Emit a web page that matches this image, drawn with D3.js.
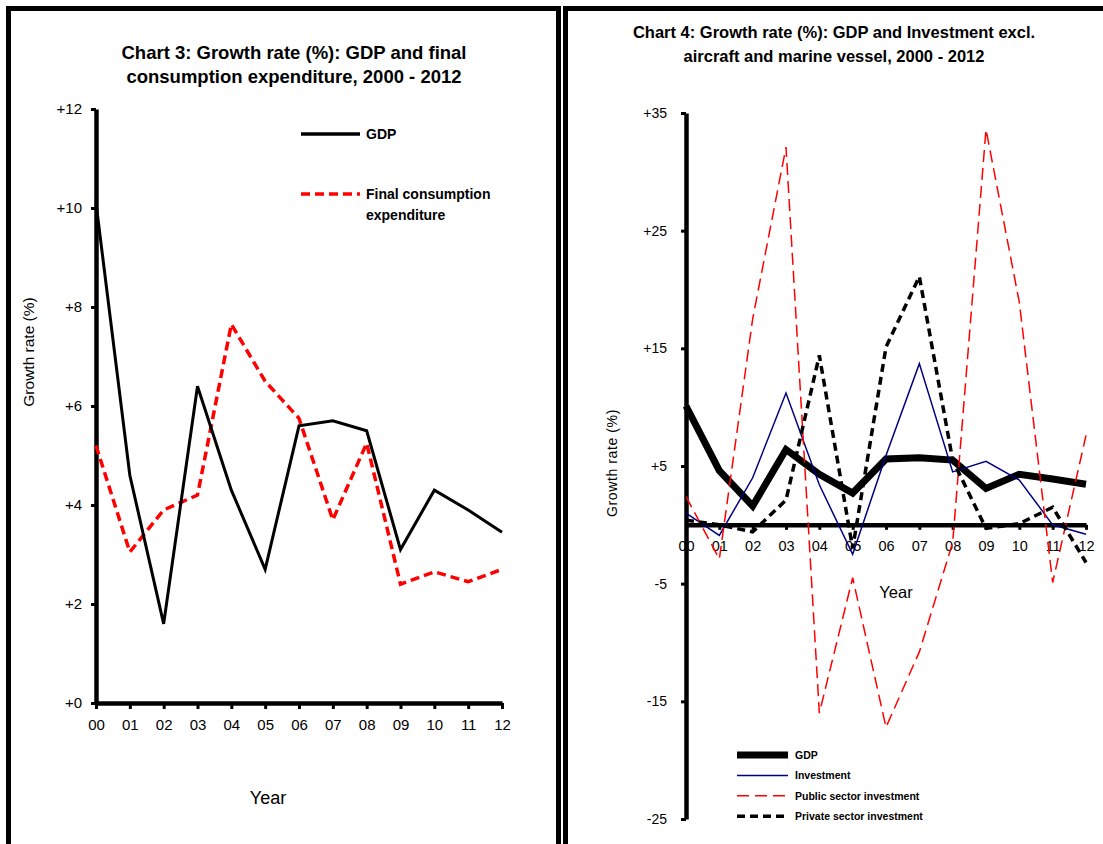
<!DOCTYPE html>
<html>
<head>
<meta charset="utf-8">
<script src="https://cdn.jsdelivr.net/npm/d3@7"></script>
<style>
  html, body { margin: 0; padding: 0; background: #fff; }
  svg { display: block; }
  .narrow { font-family: "Liberation Sans Narrow", "Arial Narrow", "Liberation Sans", Arial, sans-serif; }
  .reg { font-family: "Liberation Sans", Arial, sans-serif; }
</style>
</head>
<body>
<svg id="chart" width="1103" height="844"></svg>
<script>
// Years 2000-2012 shown as two-digit labels
const years = [0,1,2,3,4,5,6,7,8,9,10,11,12];
const yearLabels = ["00","01","02","03","04","05","06","07","08","09","10","11","12"];

// Chart 3: growth rate (%) of GDP and final consumption expenditure
const gdp = [10.1, 4.6, 1.6, 6.4, 4.3, 2.7, 5.6, 5.7, 5.5, 3.1, 4.3, 3.9, 3.45];
const finalConsumption = [5.2, 3.05, 3.9, 4.2, 7.65, 6.5, 5.75, 3.7, 5.25, 2.4, 2.65, 2.45, 2.7];
const chart3Ticks = [0, 2, 4, 6, 8, 10, 12];

// Chart 4: growth rate (%) of GDP and investment excl. aircraft and marine vessel
const investment = [1.0, -0.9, 4.0, 11.2, 3.4, -2.5, 5.9, 13.7, 4.5, 5.4, 3.8, 0.0, -0.8];
const publicInvestment = [2.4, -2.9, 17.5, 32.1, -16.0, -4.5, -17.2, -10.8, -1.5, 33.6, 18.9, -4.9, 7.6];
const privateInvestment = [0.4, 0.0, -0.6, 2.1, 14.4, -2.0, 15.1, 21.1, 5.5, -0.3, 0.1, 1.5, -3.2];
const chart4Ticks = [-25, -15, -5, 5, 15, 25, 35];

const svg = d3.select("#chart");
const signFmt = v => (v >= 0 ? "+" : "") + v;

// Panel frames (open at the bottom/right edge of the page)
svg.append("rect").attr("x", 8.5).attr("y", 8.5).attr("width", 550).attr("height", 900)
  .attr("fill", "none").attr("stroke", "#000").attr("stroke-width", 5);
svg.append("rect").attr("x", 565.5).attr("y", 8.5).attr("width", 600).attr("height", 900)
  .attr("fill", "none").attr("stroke", "#000").attr("stroke-width", 5);

function styleAxis(g, domainWidth) {
  g.select(".domain").attr("stroke", "#000").attr("stroke-width", domainWidth);
  g.selectAll(".tick line").attr("stroke", "#000").attr("stroke-width", 3);
  g.selectAll(".tick text").attr("fill", "#000");
}

// ---------------- Chart 3 ----------------
{
  const x = d3.scaleLinear().domain([0, 12]).range([96, 502]);
  const y = d3.scaleLinear().domain([0, 12]).range([703, 109]);

  svg.append("text").attr("class", "narrow").attr("text-anchor", "middle")
    .attr("font-weight", "bold").attr("font-size", 18.5)
    .selectAll("tspan").data(["Chart 3: Growth rate (%): GDP and final", "consumption expenditure, 2000 - 2012"])
    .join("tspan").attr("x", 294).attr("y", (d, i) => 59 + i * 24).text(d => d);

  const yAxis = svg.append("g").attr("class", "reg")
    .attr("transform", `translate(${x(0)},0)`)
    .call(d3.axisLeft(y).tickValues(chart3Ticks).tickFormat(signFmt).tickSize(5).tickSizeOuter(0).tickPadding(9));
  yAxis.selectAll("text").attr("font-size", 15);
  styleAxis(yAxis, 4.5);

  const xAxis = svg.append("g").attr("class", "reg")
    .attr("transform", `translate(0,${y(0)})`)
    .call(d3.axisBottom(x).tickValues(years).tickFormat(i => yearLabels[i]).tickSize(6).tickSizeOuter(0).tickPadding(10));
  xAxis.selectAll("text").attr("font-size", 15);
  styleAxis(xAxis, 4.5);

  svg.append("text").attr("class", "reg").attr("font-size", 15.5)
    .attr("transform", `translate(34,352) rotate(-90)`).attr("text-anchor", "middle")
    .text("Growth rate (%)");
  svg.append("text").attr("class", "reg").attr("font-size", 18)
    .attr("x", 268).attr("y", 804).attr("text-anchor", "middle").text("Year");

  const line = d3.line().x((d, i) => x(years[i])).y(d => y(d));
  svg.append("path").datum(finalConsumption).attr("d", line).attr("fill", "none")
    .attr("stroke", "#ff0000").attr("stroke-width", 3.5).attr("stroke-dasharray", "9,5");
  svg.append("path").datum(gdp).attr("d", line).attr("fill", "none")
    .attr("stroke", "#000").attr("stroke-width", 3).attr("stroke-linejoin", "miter");

  // Legend
  const lg = svg.append("g").attr("class", "reg").attr("font-size", 14).attr("font-weight", "bold");
  lg.append("line").attr("x1", 301).attr("x2", 360).attr("y1", 134).attr("y2", 134)
    .attr("stroke", "#000").attr("stroke-width", 3.5);
  lg.append("text").attr("x", 366).attr("y", 139).text("GDP");
  lg.append("line").attr("x1", 301).attr("x2", 360).attr("y1", 194).attr("y2", 194)
    .attr("stroke", "#ff0000").attr("stroke-width", 3.5).attr("stroke-dasharray", "9,5");
  lg.append("text").selectAll("tspan").data(["Final consumption", "expenditure"]).join("tspan")
    .attr("x", 366).attr("y", (d, i) => 199 + i * 21).text(d => d);
}

// ---------------- Chart 4 ----------------
{
  const x = d3.scaleLinear().domain([0, 12]).range([686, 1086]);
  const y = d3.scaleLinear().domain([-25, 35]).range([819, 113]);

  svg.append("text").attr("class", "narrow").attr("text-anchor", "middle")
    .attr("font-weight", "bold").attr("font-size", 16.5)
    .selectAll("tspan").data(["Chart 4: Growth rate (%): GDP and Investment excl.", "aircraft and marine vessel, 2000 - 2012"])
    .join("tspan").attr("x", 834).attr("y", (d, i) => 38 + i * 24).text(d => d);

  const yAxis = svg.append("g").attr("class", "reg")
    .attr("transform", `translate(${x(0)},0)`)
    .call(d3.axisLeft(y).tickValues(chart4Ticks).tickFormat(signFmt).tickSize(5).tickSizeOuter(0).tickPadding(14));
  yAxis.selectAll("text").attr("font-size", 14);
  styleAxis(yAxis, 4.5);

  const xAxis = svg.append("g").attr("class", "reg")
    .attr("transform", `translate(0,${y(0)})`)
    .call(d3.axisBottom(x).tickValues(years).tickFormat(i => yearLabels[i]).tickSize(5).tickSizeOuter(0).tickPadding(11));
  xAxis.selectAll("text").attr("font-size", 14.5);
  styleAxis(xAxis, 4.5);

  svg.append("text").attr("class", "reg").attr("font-size", 14).attr("letter-spacing", 0.6)
    .attr("transform", `translate(617,463) rotate(-90)`).attr("text-anchor", "middle")
    .text("Growth rate (%)");
  svg.append("text").attr("class", "reg").attr("font-size", 16.5)
    .attr("x", 896).attr("y", 598).attr("text-anchor", "middle").text("Year");

  const line = d3.line().x((d, i) => x(years[i])).y(d => y(d));
  svg.append("path").datum(gdp).attr("d", line).attr("fill", "none")
    .attr("stroke", "#000").attr("stroke-width", 7);
  svg.append("path").datum(investment).attr("d", line).attr("fill", "none")
    .attr("stroke", "#000080").attr("stroke-width", 1.5);
  svg.append("path").datum(publicInvestment).attr("d", line).attr("fill", "none")
    .attr("stroke", "#ff0000").attr("stroke-width", 1.5).attr("stroke-dasharray", "12,6");
  svg.append("path").datum(privateInvestment).attr("d", line).attr("fill", "none")
    .attr("stroke", "#000").attr("stroke-width", 3.5).attr("stroke-dasharray", "8,5");

  // Legend
  const items = [
    { name: "GDP", color: "#000", width: 7, dash: null },
    { name: "Investment", color: "#000080", width: 1.5, dash: null },
    { name: "Public sector investment", color: "#ff0000", width: 1.5, dash: "12,6" },
    { name: "Private sector investment", color: "#000", width: 3.5, dash: "8,5" }
  ];
  const lg = svg.append("g").attr("class", "narrow").attr("font-size", 10.5).attr("font-weight", "bold");
  items.forEach((it, i) => {
    const yy = 755 + i * 20.4;
    lg.append("line").attr("x1", 737).attr("x2", 788).attr("y1", yy).attr("y2", yy)
      .attr("stroke", it.color).attr("stroke-width", it.width).attr("stroke-dasharray", it.dash);
    lg.append("text").attr("x", 795).attr("y", yy + 4).text(it.name);
  });
}
</script>
</body>
</html>
